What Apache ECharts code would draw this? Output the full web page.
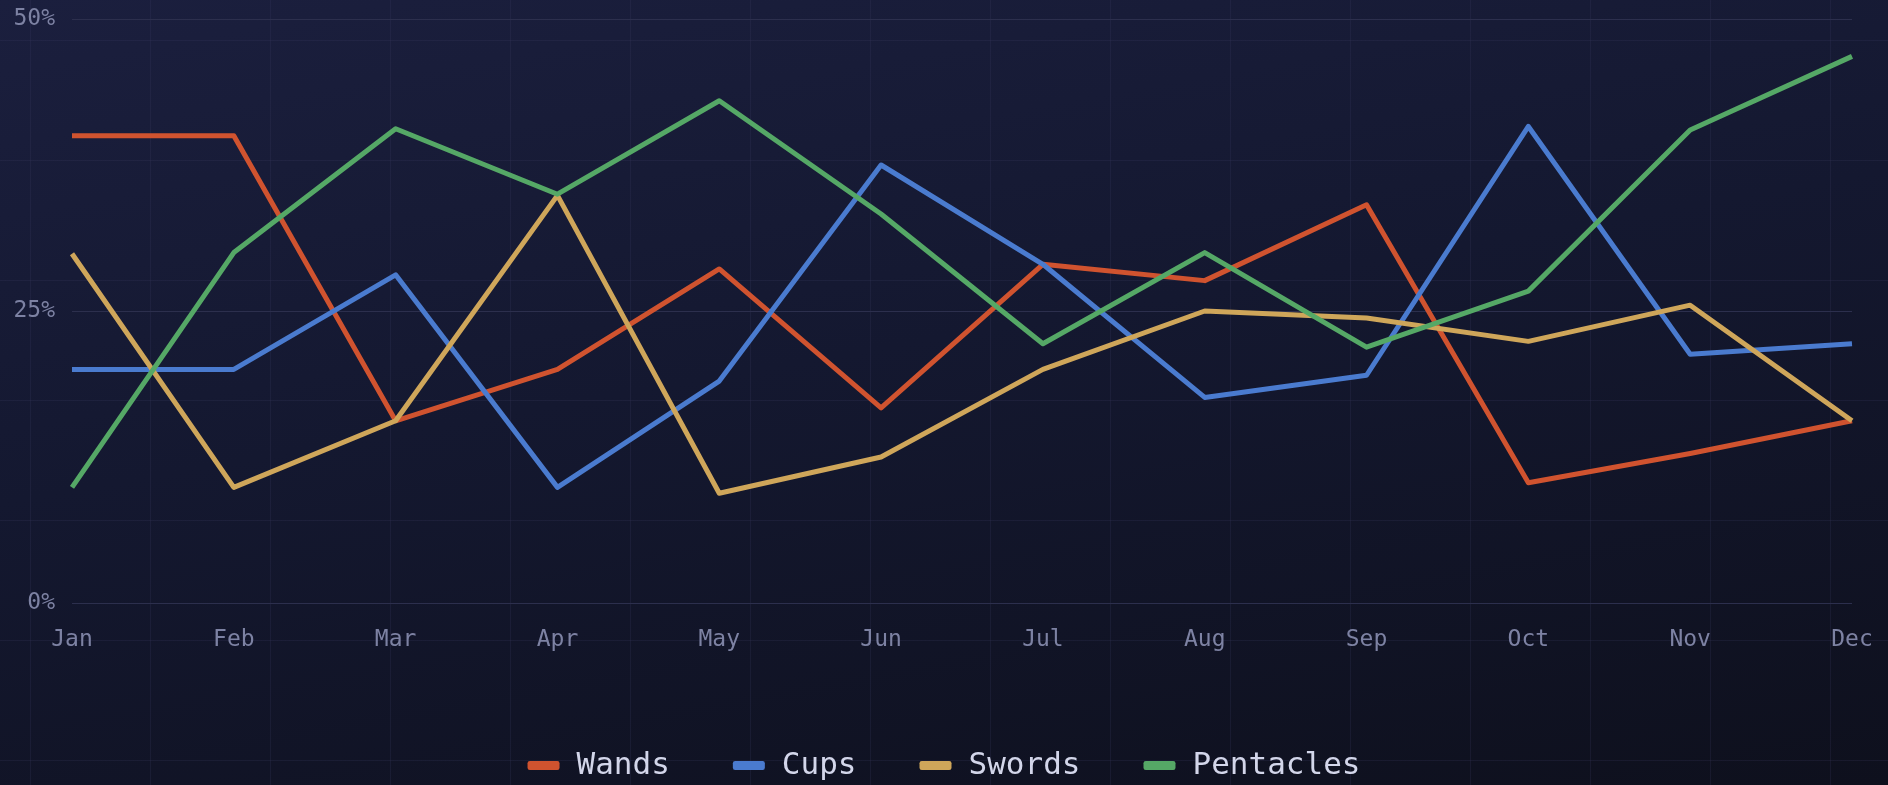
<!DOCTYPE html>
<html>
<head>
<meta charset="utf-8">
<script src="https://cdn.jsdelivr.net/npm/echarts@6/dist/echarts.min.js"></script>
<style>
  html, body { margin: 0; padding: 0; width: 1888px; height: 785px; overflow: hidden; }
  body {
    background-color: #131629;
    background-image:
      linear-gradient(rgba(60, 60, 100, 0.22) 1px, transparent 1px),
      linear-gradient(90deg, rgba(60, 60, 100, 0.22) 1px, transparent 1px),
      linear-gradient(170deg, #1b1f3e 0%, #141830 45%, #0e101d 100%);
    background-size: 120px 120px, 120px 120px, 100% 100%;
    background-position: 30px 40px, 30px 40px, 0 0;
  }
  #chart { width: 1888px; height: 785px; }
</style>
</head>
<body>
<div id="chart"></div>
<script>
var months = ['Jan','Feb','Mar','Apr','May','Jun','Jul','Aug','Sep','Oct','Nov','Dec'];
var wands     = [40, 40, 15.6, 20, 28.6, 16.7, 29, 27.6, 34.1, 10.3, 12.8, 15.6];
var cups      = [20, 20, 28.1, 9.9, 19, 37.5, 29, 17.6, 19.5, 40.8, 21.3, 22.2];
var swords    = [29.9, 9.9, 15.6, 34.9, 9.4, 12.5, 20, 25, 24.4, 22.4, 25.5, 15.6];
var pentacles = [9.9, 30, 40.6, 35, 43, 33.3, 22.2, 30, 21.9, 26.7, 40.5, 46.8];
var seriesNames = ['Wands', 'Cups', 'Swords', 'Pentacles'];
var seriesColors = ['#d0532f', '#4a7bcf', '#cfa65a', '#55a866'];
var seriesData = [wands, cups, swords, pentacles];

var font = '"DejaVu Sans Mono", monospace';
var chart = echarts.init(document.getElementById('chart'));

var series = [];
for (var i = 0; i < seriesNames.length; i++) {
    series.push({
        name: seriesNames[i],
        type: 'line',
        data: seriesData[i],
        showSymbol: false,
        symbol: 'none',
        lineStyle: { width: 5, color: seriesColors[i], join: 'round' },
        itemStyle: { color: seriesColors[i] }
    });
}

chart.setOption({
    backgroundColor: 'transparent',
    animation: false,
    color: seriesColors,
    grid: { left: 72, right: 36, top: 19, bottom: 182 },
    legend: {
        bottom: -1,
        left: 'center',
        itemWidth: 32,
        itemHeight: 9,
        itemGap: 63,
        icon: 'roundRect',
        textStyle: { color: '#d3d6ea', fontSize: 31, fontFamily: font, padding: [0, 0, 0, 12] }
    },
    xAxis: {
        type: 'category',
        data: months,
        boundaryGap: false,
        axisLine: { show: false },
        axisTick: { show: false },
        splitLine: { show: false },
        axisLabel: { color: '#7d82a3', fontSize: 23, fontFamily: font, margin: 26 }
    },
    yAxis: {
        type: 'value',
        min: 0,
        max: 50,
        interval: 25,
        axisLine: { show: false },
        axisTick: { show: false },
        splitLine: { lineStyle: { color: '#2c2f4d', width: 1 } },
        axisLabel: {
            color: '#7d82a3', fontSize: 23, fontFamily: font, margin: 17,
            formatter: '{value}%'
        }
    },
    series: series
});
</script>
</body>
</html>
